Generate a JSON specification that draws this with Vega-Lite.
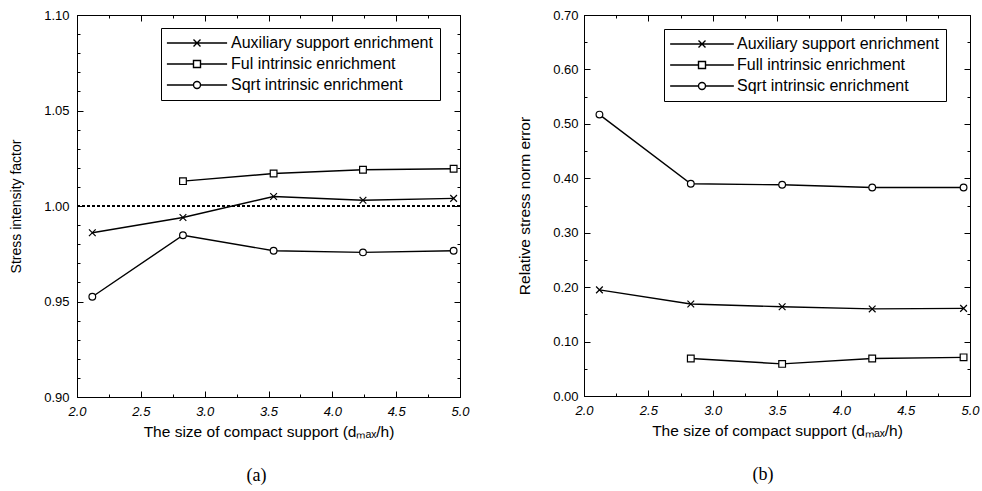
{
  "$schema": "https://vega.github.io/schema/vega-lite/v6.json",
  "padding": {"left": 9, "top": 8, "right": 5, "bottom": 5},
  "spacing": 32,
  "config": {
    "font": "Liberation Sans",
    "view": {"stroke": "black", "strokeWidth": 1},
    "axis": {"domainColor": "black", "tickColor": "black", "labelColor": "black", "titleColor": "black", "grid": false, "labelFontSize": 13, "titleFontSize": 15.5, "titleFontWeight": "normal", "labelFont": "Liberation Sans", "titleFont": "Liberation Sans", "tickWidth": 1, "labelFlush": false},
    "legend": {"labelFont": "Liberation Sans", "labelColor": "black", "labelFontSize": 16, "labelLimit": 400}
  },
  "datasets": {
    "a": [
      {"x": 2.12, "y": 0.986, "s": "Auxiliary support enrichment"},
      {"x": 2.83, "y": 0.994, "s": "Auxiliary support enrichment"},
      {"x": 3.54, "y": 1.005, "s": "Auxiliary support enrichment"},
      {"x": 4.24, "y": 1.003, "s": "Auxiliary support enrichment"},
      {"x": 4.95, "y": 1.004, "s": "Auxiliary support enrichment"},
      {"x": 2.83, "y": 1.013, "s": "Ful intrinsic enrichment"},
      {"x": 3.54, "y": 1.017, "s": "Ful intrinsic enrichment"},
      {"x": 4.24, "y": 1.019, "s": "Ful intrinsic enrichment"},
      {"x": 4.95, "y": 1.0195, "s": "Ful intrinsic enrichment"},
      {"x": 2.12, "y": 0.9525, "s": "Sqrt intrinsic enrichment"},
      {"x": 2.83, "y": 0.9847, "s": "Sqrt intrinsic enrichment"},
      {"x": 3.54, "y": 0.9766, "s": "Sqrt intrinsic enrichment"},
      {"x": 4.24, "y": 0.9757, "s": "Sqrt intrinsic enrichment"},
      {"x": 4.95, "y": 0.9766, "s": "Sqrt intrinsic enrichment"}
    ],
    "b": [
      {"x": 2.12, "y": 0.195, "s": "Auxiliary support enrichment"},
      {"x": 2.83, "y": 0.169, "s": "Auxiliary support enrichment"},
      {"x": 3.54, "y": 0.164, "s": "Auxiliary support enrichment"},
      {"x": 4.24, "y": 0.160, "s": "Auxiliary support enrichment"},
      {"x": 4.95, "y": 0.161, "s": "Auxiliary support enrichment"},
      {"x": 2.83, "y": 0.069, "s": "Full intrinsic enrichment"},
      {"x": 3.54, "y": 0.059, "s": "Full intrinsic enrichment"},
      {"x": 4.24, "y": 0.069, "s": "Full intrinsic enrichment"},
      {"x": 4.95, "y": 0.071, "s": "Full intrinsic enrichment"},
      {"x": 2.12, "y": 0.517, "s": "Sqrt intrinsic enrichment"},
      {"x": 2.83, "y": 0.390, "s": "Sqrt intrinsic enrichment"},
      {"x": 3.54, "y": 0.388, "s": "Sqrt intrinsic enrichment"},
      {"x": 4.24, "y": 0.383, "s": "Sqrt intrinsic enrichment"},
      {"x": 4.95, "y": 0.383, "s": "Sqrt intrinsic enrichment"}
    ]
  },
  "resolve": {"scale": {"shape": "independent"}, "legend": {"shape": "independent"}},
  "hconcat": [
    {
      "width": 383,
      "height": 382,
      "data": {"name": "a"},
      "title": {"text": "(a)", "orient": "bottom", "font": "Liberation Serif", "fontSize": 18, "fontWeight": "normal", "color": "black", "frame": "group", "anchor": "middle", "dx": -12, "offset": 27},
      "resolve": {"axis": {"x": "independent", "y": "independent"}, "scale": {"shape": "independent"}, "legend": {"shape": "independent"}},
      "layer": [
        {
          "mark": {"type": "rule", "strokeDash": [3, 2], "color": "black", "strokeWidth": 1},
          "encoding": {"y": {"datum": 1, "type": "quantitative", "axis": null}}
        },
        {
          "mark": {"type": "line", "color": "black", "strokeWidth": 1.4},
          "encoding": {
            "x": {"field": "x", "type": "quantitative", "scale": {"domain": [2, 5], "nice": false, "zero": false},
              "axis": {"orient": "bottom", "values": [2, 2.25, 2.5, 2.75, 3, 3.25, 3.5, 3.75, 4, 4.25, 4.5, 4.75, 5],
                "tickSize": {"condition": {"test": "abs(datum.value*2-round(datum.value*2))<0.001", "value": -6}, "value": -3},
                "labelExpr": "abs(datum.value*2-round(datum.value*2))<0.001 ? format(datum.value,'.1f') : ''",
                "labelFontStyle": "italic", "labelPadding": 14.5, "title": "The size of compact support (dₘₐₓ/h)", "titlePadding": 6}},
            "y": {"field": "y", "type": "quantitative", "scale": {"domain": [0.9, 1.1], "nice": false, "zero": false},
              "axis": {"orient": "left", "values": [0.9, 0.91, 0.92, 0.93, 0.94, 0.95, 0.96, 0.97, 0.98, 0.99, 1.0, 1.01, 1.02, 1.03, 1.04, 1.05, 1.06, 1.07, 1.08, 1.09, 1.1],
                "tickSize": {"condition": {"test": "abs(datum.value*20-round(datum.value*20))<0.001", "value": -6}, "value": -3},
                "labelExpr": "abs(datum.value*20-round(datum.value*20))<0.001 ? format(datum.value,'.2f') : ''",
                "labelPadding": 14, "title": "Stress intensity factor", "titleFontSize": 14, "titlePadding": 20}},
            "detail": {"field": "s"}
          }
        },
        {
          "mark": {"type": "point", "filled": false, "fill": "white", "stroke": "black", "strokeWidth": 1.2, "size": 45, "opacity": 1},
          "encoding": {
            "x": {"field": "x", "type": "quantitative",
              "axis": {"orient": "top", "values": [2, 2.25, 2.5, 2.75, 3, 3.25, 3.5, 3.75, 4, 4.25, 4.5, 4.75, 5],
                "tickSize": {"condition": {"test": "abs(datum.value*2-round(datum.value*2))<0.001", "value": -6}, "value": -3},
                "labels": false, "title": null}},
            "y": {"field": "y", "type": "quantitative",
              "axis": {"orient": "right", "values": [0.9, 0.91, 0.92, 0.93, 0.94, 0.95, 0.96, 0.97, 0.98, 0.99, 1.0, 1.01, 1.02, 1.03, 1.04, 1.05, 1.06, 1.07, 1.08, 1.09, 1.1],
                "tickSize": {"condition": {"test": "abs(datum.value*20-round(datum.value*20))<0.001", "value": -6}, "value": -3},
                "labels": false, "title": null}},
            "shape": {"field": "s", "type": "nominal",
              "scale": {"range": ["M-1,-1L1,1M-1,1L1,-1", "square", "circle"]},
              "legend": null}
          }
        },
        {
          "mark": {"type": "point", "filled": false, "stroke": "black", "strokeWidth": 1.4, "size": 49, "opacity": 0},
          "encoding": {
            "x": {"field": "x", "type": "quantitative", "axis": null},
            "y": {"field": "y", "type": "quantitative", "axis": null},
            "shape": {"field": "s", "type": "nominal",
              "scale": {"range": ["M-8.6,0L8.6,0M-1,-1L1,1M-1,1L1,-1", "M-8.6,0L-1,0M1,0L8.6,0M-1,-1L1,-1L1,1L-1,1Z", "M-8.6,0L-1,0M1,0L8.6,0M1,0A1,1,0,1,1,-1,0A1,1,0,1,1,1,0Z"]},
              "legend": {"orient": "none", "legendX": 84, "legendY": 13, "title": null, "padding": 7, "strokeColor": "black", "fillColor": "white",
                "symbolSize": 49, "symbolStrokeWidth": 1.4, "symbolStrokeColor": "black", "symbolFillColor": "white", "symbolOpacity": 1,
                "symbolOffset": 21, "labelOffset": 26, "rowPadding": 5}}
          }
        }
      ]
    },
    {
      "width": 386,
      "height": 381,
      "data": {"name": "b"},
      "title": {"text": "(b)", "orient": "bottom", "font": "Liberation Serif", "fontSize": 18, "fontWeight": "normal", "color": "black", "frame": "group", "anchor": "middle", "dx": -14, "offset": 27},
      "resolve": {"axis": {"x": "independent", "y": "independent"}, "scale": {"shape": "independent"}, "legend": {"shape": "independent"}},
      "layer": [
        {
          "mark": {"type": "line", "color": "black", "strokeWidth": 1.4},
          "encoding": {
            "x": {"field": "x", "type": "quantitative", "scale": {"domain": [2, 5], "nice": false, "zero": false},
              "axis": {"orient": "bottom", "values": [2, 2.25, 2.5, 2.75, 3, 3.25, 3.5, 3.75, 4, 4.25, 4.5, 4.75, 5],
                "tickSize": {"condition": {"test": "abs(datum.value*2-round(datum.value*2))<0.001", "value": -6}, "value": -3},
                "labelExpr": "abs(datum.value*2-round(datum.value*2))<0.001 ? format(datum.value,'.1f') : ''",
                "labelFontStyle": "italic", "labelPadding": 14.5, "title": "The size of compact support (dₘₐₓ/h)", "titlePadding": 6}},
            "y": {"field": "y", "type": "quantitative", "scale": {"domain": [0, 0.7], "nice": false, "zero": false},
              "axis": {"orient": "left", "values": [0, 0.05, 0.1, 0.15, 0.2, 0.25, 0.3, 0.35, 0.4, 0.45, 0.5, 0.55, 0.6, 0.65, 0.7],
                "tickSize": {"condition": {"test": "abs(datum.value*10-round(datum.value*10))<0.001", "value": -6}, "value": -3},
                "labelExpr": "abs(datum.value*10-round(datum.value*10))<0.001 ? format(datum.value,'.2f') : ''",
                "labelPadding": 12, "title": "Relative stress norm error", "titlePadding": 20}},
            "detail": {"field": "s"}
          }
        },
        {
          "mark": {"type": "point", "filled": false, "fill": "white", "stroke": "black", "strokeWidth": 1.2, "size": 45, "opacity": 1},
          "encoding": {
            "x": {"field": "x", "type": "quantitative",
              "axis": {"orient": "top", "values": [2, 2.25, 2.5, 2.75, 3, 3.25, 3.5, 3.75, 4, 4.25, 4.5, 4.75, 5],
                "tickSize": {"condition": {"test": "abs(datum.value*2-round(datum.value*2))<0.001", "value": -6}, "value": -3},
                "labels": false, "title": null}},
            "y": {"field": "y", "type": "quantitative",
              "axis": {"orient": "right", "values": [0, 0.05, 0.1, 0.15, 0.2, 0.25, 0.3, 0.35, 0.4, 0.45, 0.5, 0.55, 0.6, 0.65, 0.7],
                "tickSize": {"condition": {"test": "abs(datum.value*10-round(datum.value*10))<0.001", "value": -6}, "value": -3},
                "labels": false, "title": null}},
            "shape": {"field": "s", "type": "nominal",
              "scale": {"range": ["M-1,-1L1,1M-1,1L1,-1", "square", "circle"]},
              "legend": null}
          }
        },
        {
          "mark": {"type": "point", "filled": false, "stroke": "black", "strokeWidth": 1.4, "size": 49, "opacity": 0},
          "encoding": {
            "x": {"field": "x", "type": "quantitative", "axis": null},
            "y": {"field": "y", "type": "quantitative", "axis": null},
            "shape": {"field": "s", "type": "nominal",
              "scale": {"range": ["M-9.1,0L9.1,0M-1,-1L1,1M-1,1L1,-1", "M-9.1,0L-1,0M1,0L9.1,0M-1,-1L1,-1L1,1L-1,1Z", "M-9.1,0L-1,0M1,0L9.1,0M1,0A1,1,0,1,1,-1,0A1,1,0,1,1,1,0Z"]},
              "legend": {"orient": "none", "legendX": 80, "legendY": 14, "title": null, "padding": 7, "strokeColor": "black", "fillColor": "white",
                "symbolSize": 49, "symbolStrokeWidth": 1.4, "symbolStrokeColor": "black", "symbolFillColor": "white", "symbolOpacity": 1,
                "symbolOffset": 23, "labelOffset": 27, "rowPadding": 5}}
          }
        }
      ]
    }
  ]
}
